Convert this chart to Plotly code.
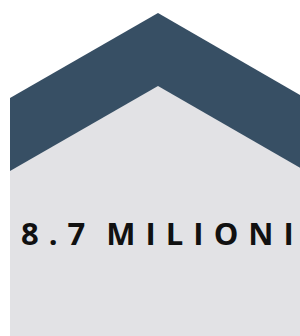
import plotly.graph_objects as go

# Decorative house shape outline (pixel space, y downward)
roof_x = [10, 158, 310, 310, 10]
roof_y = [98, 13, 100.8, 400, 400]
body_x = [10, 158, 310, 310, 10]
body_y = [171, 86, 173.6, 400, 400]

value_number = "8.7"
value_unit = "MILIONI"

DARK = "#374f64"
LIGHT = "#e2e2e5"

fig = go.Figure()
fig.add_trace(go.Scatter(x=roof_x, y=roof_y, fill="toself", mode="lines",
                         line=dict(width=0, color=DARK), fillcolor=DARK,
                         hoverinfo="skip", showlegend=False))
fig.add_trace(go.Scatter(x=body_x, y=body_y, fill="toself", mode="lines",
                         line=dict(width=0, color=LIGHT), fillcolor=LIGHT,
                         hoverinfo="skip", showlegend=False))

label = ('<span style="letter-spacing:10px">' + value_number + '</span>'
         '<span style="letter-spacing:3px"> </span>'
         '<span style="letter-spacing:10px">' + value_unit[:-1] + '</span>'
         '<span style="letter-spacing:0px">' + value_unit[-1] + '</span>')

fig.add_annotation(x=19, y=233, xref="x", yref="y", xanchor="left", yanchor="middle",
                   text=label, showarrow=False,
                   font=dict(family="Open Sans", size=31, color="#111111", weight="bold"))

fig.update_layout(width=300, height=336, margin=dict(l=0, r=0, t=0, b=0),
                  paper_bgcolor="white", plot_bgcolor="white",
                  xaxis=dict(range=[0, 300], visible=False, fixedrange=True),
                  yaxis=dict(range=[336, 0], visible=False, fixedrange=True))

fig.write_html("out.html", config={"displayModeBar": False},
               post_script="document.body.style.margin='0';document.body.style.overflow='hidden';")
